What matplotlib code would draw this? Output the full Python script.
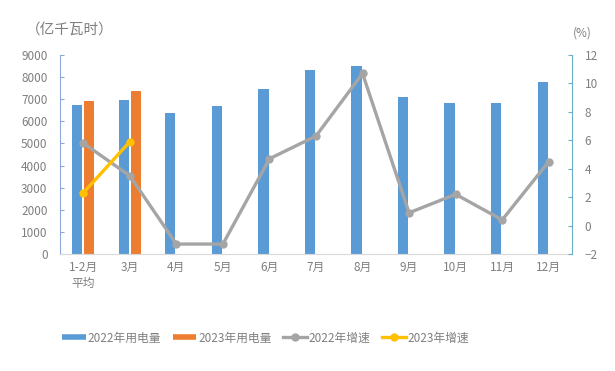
import matplotlib
matplotlib.use("Agg")
import matplotlib.pyplot as plt
from matplotlib.lines import Line2D
import numpy as np

plt.rcParams['font.family'] = ['Noto Sans CJK SC', 'DejaVu Sans']

categories = ["1-2月\n平均", "3月", "4月", "5月", "6月", "7月", "8月", "9月", "10月", "11月", "12月"]
use_2022 = [6730, 6950, 6370, 6700, 7450, 8320, 8520, 7090, 6850, 6820, 7800]
use_2023 = [6940, 7380]
growth_2022 = [5.8, 3.5, -1.3, -1.3, 4.7, 6.3, 10.7, 0.9, 2.2, 0.4, 4.5]
growth_2023 = [2.3, 5.9]
left_ticks = [0, 1000, 2000, 3000, 4000, 5000, 6000, 7000, 8000, 9000]
right_ticks = [-2, 0, 2, 4, 6, 8, 10, 12]

BLUE = "#5B9BD5"
ORANGE = "#ED7D31"
GRAY = "#A5A5A5"
YELLOW = "#FFC000"
TXT = "#7F7F7F"
FS = 8.5

fig = plt.figure(figsize=(6.15, 3.71), dpi=100)
ax = fig.add_axes([60/615, 1-254/371, (572-60)/615, (254-55)/371])
x = np.arange(len(categories))
w = 0.22
ax.bar(x - 0.13, use_2022, width=w, color=BLUE, zorder=2)
ax.bar(x[:len(use_2023)] + 0.13, use_2023, width=w, color=ORANGE, zorder=2)
ax.set_xlim(-0.5, len(categories) - 0.5)
ax.set_ylim(0, 9000)
ax.set_yticks(left_ticks)
ax.set_xticks(x)
ax.set_xticklabels(categories, fontsize=FS, color=TXT, linespacing=1.3)
ax.tick_params(axis='x', length=0, pad=5)
ax.tick_params(axis='y', direction='in', length=3, color="#8EA9DB", labelsize=FS, labelcolor=TXT, pad=9)
for s in ['top', 'right']:
    ax.spines[s].set_visible(False)
ax.spines['left'].set_color("#8EA9DB")
ax.spines['bottom'].set_color("#D9D9D9")

ax2 = ax.twinx()
ax2.plot(x, growth_2022, color=GRAY, lw=2.4, marker='o', ms=5, zorder=3)
ax2.plot(x[:len(growth_2023)], growth_2023, color=YELLOW, lw=2.4, marker='o', ms=5, zorder=4)
ax2.set_ylim(-2, 12)
ax2.set_yticks(right_ticks)
ax2.tick_params(axis='y', direction='in', length=3, color="#6AAFC8", labelsize=FS, labelcolor=TXT, pad=9)
for s in ['top', 'left', 'bottom']:
    ax2.spines[s].set_visible(False)
ax2.spines['right'].set_color("#6AAFC8")

fig.text(26/615, 1-30/371, "（亿千瓦时）", fontsize=10.5, color=TXT, va='center', ha='left')
fig.text(582/615, 1-33/371, "(%)", fontsize=FS, color=TXT, va='center', ha='center')

handles = [
    Line2D([], [], color=BLUE, lw=4, solid_capstyle='butt'),
    Line2D([], [], color=ORANGE, lw=4, solid_capstyle='butt'),
    Line2D([], [], color=GRAY, lw=2.4, marker='o', ms=5),
    Line2D([], [], color=YELLOW, lw=2.4, marker='o', ms=5),
]
labels = ["2022年用电量", "2023年用电量", "2022年增速", "2023年增速"]
leg = fig.legend(handles, labels, loc='center', bbox_to_anchor=(0.432, 1-338/371), ncol=4,
                 frameon=False, fontsize=FS, handlelength=2.0, handletextpad=0.15, columnspacing=1.0)
for t in leg.get_texts():
    t.set_color(TXT)

fig.savefig("out.png", dpi=100)
